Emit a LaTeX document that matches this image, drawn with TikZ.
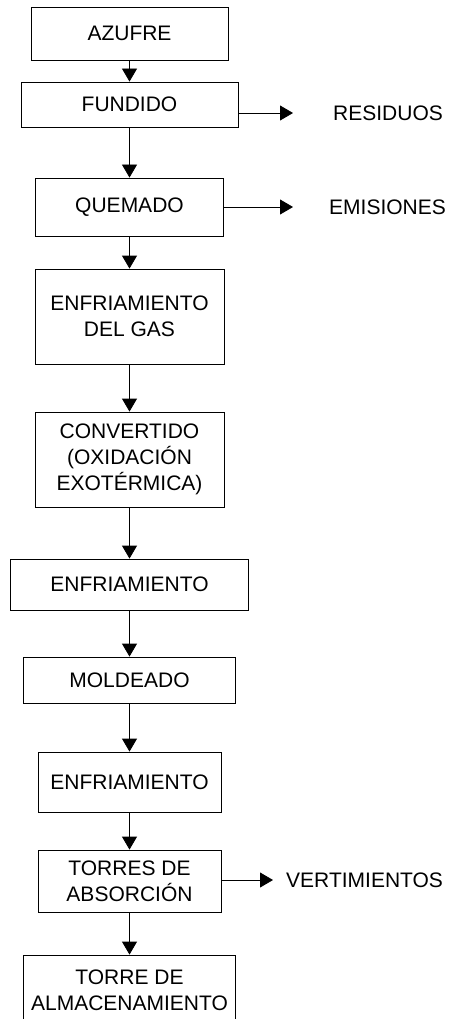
\documentclass[tikz,border=0pt]{standalone}
\usepackage{fontspec}
\setmainfont{Liberation Sans}
\usetikzlibrary{arrows.meta}
\begin{document}
\begin{tikzpicture}[x=1pt,y=-1pt,
  box/.style={draw=black,line width=0.8pt,rectangle,inner sep=0pt,align=center,font=\fontsize{21}{26}\selectfont},
  lbl/.style={inner sep=0pt,anchor=west,font=\fontsize{21}{26}\selectfont},
  flow/.style={draw=black,line width=0.8pt,-{Triangle[length=13pt,width=15pt]}}]
\useasboundingbox (0,0) rectangle (448,1019);
\node[box,minimum width=197pt,minimum height=53pt] (az) at (129.5,33.5) {AZUFRE};
\node[box,minimum width=217pt,minimum height=45pt] (fu) at (129.5,104.5) {FUNDIDO};
\node[box,minimum width=188pt,minimum height=58pt] (qu) at (129.5,207) {QUEMADO};
\node[box,minimum width=189pt,minimum height=95pt] (eg) at (129.5,316.5) {ENFRIAMIENTO\\DEL GAS};
\node[box,minimum width=189pt,minimum height=95pt] (co) at (129.5,459.5) {CONVERTIDO\\(OXIDACIÓN\\EXOTÉRMICA)};
\node[box,minimum width=238pt,minimum height=51pt] (en1) at (129.5,584.5) {ENFRIAMIENTO};
\node[box,minimum width=212pt,minimum height=46pt] (mo) at (129.5,680) {MOLDEADO};
\node[box,minimum width=183pt,minimum height=60pt] (en2) at (129.5,782) {ENFRIAMIENTO};
\node[box,minimum width=183pt,minimum height=62pt] (to) at (129.5,881) {TORRES DE\\ABSORCIÓN};
\node[box,minimum width=212pt,minimum height=70pt] (al) at (129.5,990) {TORRE DE\\ALMACENAMIENTO};
\node[lbl] (res) at (333,113) {RESIDUOS};
\node[lbl] (emi) at (329,207) {EMISIONES};
\node[lbl] (ver) at (286,880) {VERTIMIENTOS};
\coordinate (resend) at (293,113);
\coordinate (emiend) at (293,207);
\coordinate (verend) at (273,880);
\draw[flow] (az.south) -- (fu.north);
\draw[flow] (fu.south) -- (qu.north);
\draw[flow] (qu.south) -- (eg.north);
\draw[flow] (eg.south) -- (co.north);
\draw[flow] (co.south) -- (en1.north);
\draw[flow] (en1.south) -- (mo.north);
\draw[flow] (mo.south) -- (en2.north);
\draw[flow] (en2.south) -- (to.north);
\draw[flow] (to.south) -- (al.north);
\draw[flow] (fu.east |- resend) -- (resend);
\draw[flow] (qu.east |- emiend) -- (emiend);
\draw[flow] (to.east |- verend) -- (verend);
\end{tikzpicture}
\end{document}
